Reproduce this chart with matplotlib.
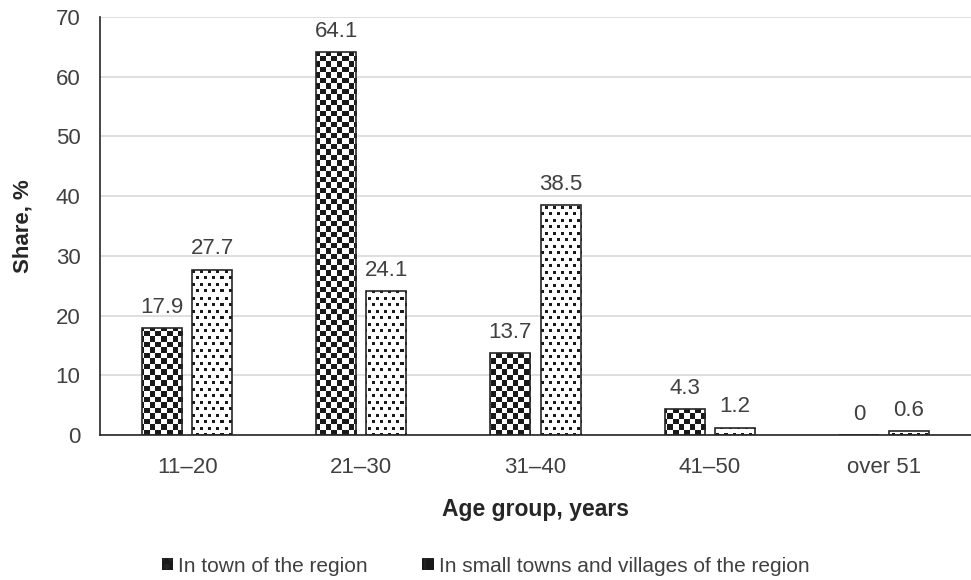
import matplotlib
matplotlib.use("Agg")
import matplotlib.pyplot as plt
import numpy as np
from matplotlib.patches import Patch

plt.rcParams['font.family'] = ['Liberation Sans', 'DejaVu Sans']

categories = ["11–20", "21–30", "31–40", "41–50", "over 51"]
town = [17.9, 64.1, 13.7, 4.3, 0]
villages = [27.7, 24.1, 38.5, 1.2, 0.6]
series_names = ["In town of the region", "In small towns and villages of the region"]

W, H, DPI = 971, 580, 100
fig = plt.figure(figsize=(W / DPI, H / DPI), dpi=DPI)
ax_rect = [0.103, 0.25, 0.897, 0.721]
ax = fig.add_axes(ax_rect)

x = np.arange(len(categories))
w = 0.23
off = 0.144
ymax = 70
xlim = (-0.5, len(categories) - 0.5)

# pixel-scale texture bitmaps covering the whole axes area
pw, ph = int(round(ax_rect[2] * W)), int(round(ax_rect[3] * H))
jj, ii = np.meshgrid(np.arange(pw), np.arange(ph))
checker = ((np.floor(ii / 5.5) + np.floor(jj / 5.5)) % 2).astype(float)
row = np.floor(ii / 6.5).astype(int)
shift = (row % 2) * 4
speck = (((jj + shift) % 8 < 3) & ((ii % 6.5) < 3)).astype(float)
tex_town = 1.0 - checker * 0.9   # 1 = white, 0.1 = near black
tex_vil = 1.0 - speck * 0.9

def textured_bars(xs, vals, tex):
    bars = ax.bar(xs, vals, w, facecolor='white', edgecolor='none', zorder=2)
    for b in bars:
        im = ax.imshow(tex, cmap='gray', vmin=0, vmax=1, extent=(*xlim, 0, ymax),
                       origin='upper', interpolation='nearest', aspect='auto', zorder=2.5)
        im.set_clip_path(b)
    ax.bar(xs, vals, w, facecolor='none', edgecolor='#262626', linewidth=1.2, zorder=3)

textured_bars(x - off, town, tex_town)
textured_bars(x + off, villages, tex_vil)

for xs, vals in ((x - off, town), (x + off, villages)):
    for xi, v in zip(xs, vals):
        ax.annotate(f"{v:g}", (xi, v), xytext=(0, 7.5), textcoords='offset points',
                    ha='center', va='bottom', fontsize=16, color='#404040')

ax.set_ylim(0, ymax)
ax.set_xlim(*xlim)
ax.set_yticks(range(0, 71, 10))
ax.set_xticks(x)
ax.set_xticklabels(categories)
ax.tick_params(axis='both', length=0, labelsize=16, labelcolor='#404040')
ax.tick_params(axis='y', pad=14)
ax.tick_params(axis='x', pad=16)
ax.yaxis.grid(True, color='#d9d9d9', linewidth=1.2, zorder=0)
ax.set_axisbelow(True)
for s in ['top', 'right']:
    ax.spines[s].set_visible(False)
for s in ['left', 'bottom']:
    ax.spines[s].set_color('#262626')
    ax.spines[s].set_linewidth(1.2)
    ax.spines[s].set_zorder(4)

ax.set_ylabel("Share, %", fontsize=16, fontweight='bold', color='#262626', labelpad=16)
ax.set_xlabel("Age group, years", fontsize=16.5, fontweight='bold', color='#262626', labelpad=14)

plt.rcParams['hatch.linewidth'] = 1.2
handles = [
    Patch(facecolor='#1a1a1a', edgecolor='white', hatch='oo', linewidth=0),
    Patch(facecolor='#1a1a1a', edgecolor='white', hatch='+', linewidth=0),
]
leg = fig.legend(handles, series_names, loc='center', bbox_to_anchor=(0.5, 0.024),
                 ncol=2, frameon=False, fontsize=15, handlelength=0.55, handleheight=0.55,
                 handletextpad=0.25, columnspacing=2.6, labelcolor='#404040')
for h in leg.legend_handles:
    h.set_edgecolor('#262626')

fig.savefig("out.png", dpi=DPI)
